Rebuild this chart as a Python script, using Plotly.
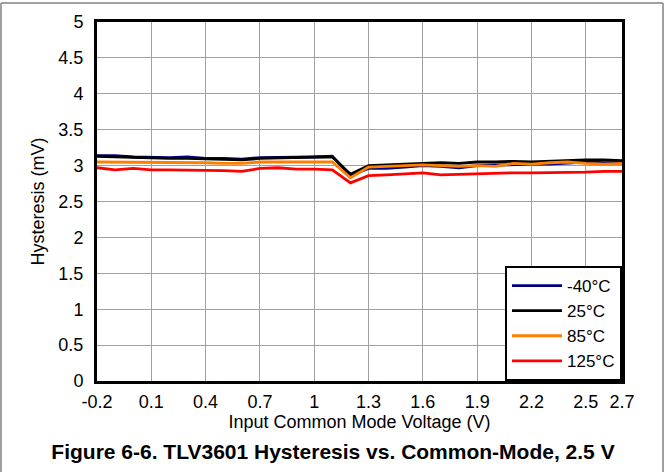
import plotly.graph_objects as go

vcm = [-0.2, -0.1, 0.0, 0.1, 0.2, 0.3, 0.4, 0.5, 0.6, 0.7, 0.8, 0.9, 1.0, 1.1, 1.2,
       1.3, 1.4, 1.5, 1.6, 1.7, 1.8, 1.9, 2.0, 2.1, 2.2, 2.3, 2.4, 2.5, 2.6, 2.7]
hyst_m40 = [3.14, 3.14, 3.12, 3.11, 3.11, 3.12, 3.10, 3.10, 3.09, 3.11, 3.11, 3.11, 3.12, 3.13, 2.86,
            2.96, 2.96, 2.98, 3.00, 2.99, 2.97, 3.00, 3.01, 3.01, 3.02, 3.02, 3.04, 3.05, 3.04, 3.04]
hyst_25 = [3.13, 3.12, 3.12, 3.10, 3.10, 3.10, 3.09, 3.09, 3.08, 3.10, 3.11, 3.11, 3.12, 3.12, 2.88,
           3.00, 3.01, 3.03, 3.04, 3.04, 3.03, 3.05, 3.05, 3.06, 3.05, 3.06, 3.08, 3.08, 3.08, 3.07]
hyst_85 = [3.05, 3.05, 3.05, 3.05, 3.04, 3.04, 3.04, 3.03, 3.03, 3.05, 3.05, 3.04, 3.05, 3.05, 2.83,
           2.98, 2.99, 3.00, 3.01, 3.00, 2.99, 3.00, 2.99, 3.03, 3.02, 3.04, 3.05, 3.03, 3.02, 3.03]
hyst_125 = [2.97, 2.94, 2.96, 2.94, 2.94, 2.94, 2.93, 2.93, 2.92, 2.96, 2.97, 2.95, 2.95, 2.94, 2.76,
            2.86, 2.87, 2.89, 2.90, 2.87, 2.88, 2.89, 2.89, 2.90, 2.90, 2.90, 2.91, 2.91, 2.92, 2.92]

series_names = ["-40°C", "25°C", "85°C", "125°C"]
series_colors = ["#000080", "#000000", "#FF7F00", "#FF0000"]
series_values = [hyst_m40, hyst_25, hyst_85, hyst_125]

x_tickvals = [-0.2, 0.1, 0.4, 0.7, 1.0, 1.3, 1.6, 1.9, 2.2, 2.5, 2.7]
x_ticktext = ["-0.2", "0.1", "0.4", "0.7", "1", "1.3", "1.6", "1.9", "2.2", "2.5", "2.7"]
y_tickvals = [0, 0.5, 1, 1.5, 2, 2.5, 3, 3.5, 4, 4.5, 5]
y_ticktext = ["0", "0.5", "1", "1.5", "2", "2.5", "3", "3.5", "4", "4.5", "5"]

FONT = "Liberation Sans, Arial, sans-serif"

fig = go.Figure()
for name, color, vals in zip(series_names, series_colors, series_values):
    fig.add_trace(go.Scatter(x=vcm, y=vals, mode="lines", name=name,
                             line=dict(color=color, width=2.8)))

fig.update_layout(
    width=666, height=472,
    margin=dict(l=97, r=44, t=20, b=91),
    paper_bgcolor="white", plot_bgcolor="white",
    font=dict(family=FONT, size=18, color="black"),
    showlegend=True,
    legend=dict(x=1, y=0, xanchor="right", yanchor="bottom",
                bgcolor="white", bordercolor="black", borderwidth=2,
                font=dict(size=17), tracegroupgap=0, itemwidth=50),
    title=dict(text="<b>Figure 6-6. TLV3601 Hysteresis vs. Common-Mode, 2.5 V</b>",
               x=0.5, xref="container", xanchor="center",
               y=1 - 452 / 472, yref="container", yanchor="middle",
               font=dict(size=21, family=FONT)),
    xaxis=dict(range=[-0.2, 2.7], tickvals=x_tickvals, ticktext=x_ticktext,
               showgrid=True, gridcolor="#A0A0A0", gridwidth=1,
               showline=True, linecolor="black", linewidth=3, mirror=True,
               ticks="", ticklabelstandoff=2, zeroline=False,
               title=dict(text="Input Common Mode Voltage (V)", standoff=4,
                          font=dict(size=18))),
    yaxis=dict(range=[0, 5], tickvals=y_tickvals, ticktext=y_ticktext,
               showgrid=True, gridcolor="#A0A0A0", gridwidth=1,
               showline=True, linecolor="black", linewidth=3, mirror=True,
               ticks="", ticklabelstandoff=7, zeroline=False,
               title=dict(text="Hysteresis (mV)", standoff=10,
                          font=dict(size=18))),
)

# outer thin gray frame of the figure (left, top, right)
for x0, y0, x1, y1 in [(1, 1, 1, 480), (1, 1, 663, 1), (663, 1, 663, 480)]:
    fig.add_shape(type="line", xref="paper", yref="paper",
                  x0=(x0 - 97) / 525, x1=(x1 - 97) / 525,
                  y0=(381 - y0) / 361, y1=(381 - y1) / 361,
                  line=dict(color="#808080", width=1.5), layer="above")

fig.write_html("out.html")
